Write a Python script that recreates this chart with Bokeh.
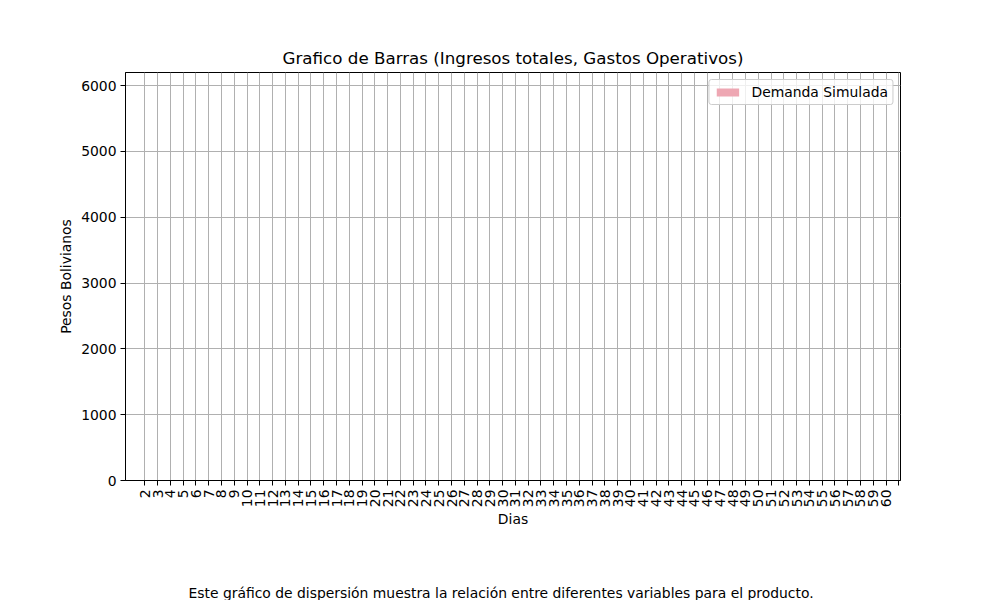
import math
from bokeh.plotting import figure
from bokeh.models import ColumnDataSource, FixedTicker, Range1d, Title, Legend, LegendItem
from bokeh.embed import file_html
from bokeh.resources import INLINE

# Data
dias = list(range(2, 61))            # tick labels on the x axis (days)
tick_positions = list(range(2, 62))  # last tick (61) has no label
demanda = [0] * len(dias)            # bars are not visible in the reference
y_ticks = [0, 1000, 2000, 3000, 4000, 5000, 6000]

FONT = "DejaVu Sans"
X0, X1 = 0.49, 61.13
Y0, Y1 = 0, 6198

p = figure(width=1000, height=600, output_backend="svg", toolbar_location=None,
           x_range=Range1d(X0, X1), y_range=Range1d(Y0, Y1),
           min_border_left=125, min_border_right=100, min_border_top=72,
           min_border_bottom=120)

p.title.text = "Grafico de Barras (Ingresos totales, Gastos Operativos)"
p.title.align = "center"
p.title.text_font = FONT
p.title.text_font_size = "16.7px"
p.title.text_font_style = "normal"
p.title.text_color = "black"
p.title.standoff = 9

src = ColumnDataSource(dict(x=dias, top=demanda))
r = p.vbar(x="x", top="top", width=0.8, source=src, fill_color="#eea7b3",
           line_color=None)

legend = Legend(items=[LegendItem(label="Demanda Simulada", renderers=[r])],
                location="top_right")
legend.label_text_font = FONT
legend.label_text_font_size = "13.9px"
legend.label_text_color = "black"
legend.border_line_color = "#cccccc"
legend.border_line_alpha = 1.0
legend.background_fill_alpha = 0.8
legend.glyph_width = 28
legend.glyph_height = 10
legend.padding = 4
legend.spacing = 0
legend.margin = 7
legend.label_standoff = 10
legend.border_radius = 3
p.add_layout(legend)

p.outline_line_color = "black"
p.outline_line_width = 1
p.outline_line_alpha = 1

p.xaxis.ticker = FixedTicker(ticks=tick_positions)
overrides = {t: "" for t in tick_positions}
for d in dias:
    overrides[d] = str(d)
p.xaxis.major_label_overrides = overrides
p.xaxis.major_label_orientation = math.pi / 2
p.yaxis.ticker = FixedTicker(ticks=y_ticks)

for ax in (p.xaxis[0], p.yaxis[0]):
    ax.major_label_text_font = FONT
    ax.major_label_text_font_size = "13.9px"
    ax.major_label_text_color = "black"
    ax.axis_label_text_font = FONT
    ax.axis_label_text_font_size = "13.9px"
    ax.axis_label_text_font_style = "normal"
    ax.axis_label_text_color = "black"
    ax.minor_tick_line_color = None
    ax.major_tick_out = 5
    ax.major_tick_in = 0
    ax.major_tick_line_color = "black"
    ax.axis_line_color = "black"
    ax.major_label_standoff = 4
    ax.axis_label_standoff = 4
p.xaxis.axis_label_standoff = 1

p.xaxis.axis_label = "Dias"
p.yaxis.axis_label = "Pesos Bolivianos"

p.xgrid.ticker = FixedTicker(ticks=tick_positions)
p.ygrid.ticker = FixedTicker(ticks=y_ticks)
p.grid.grid_line_color = "#b0b0b0"
p.grid.grid_line_width = 1

# spacer between the x axis and the footnote
spacer = Title(text=" ", text_font=FONT, text_font_size="13.9px", standoff=34)
p.add_layout(spacer, "below")
foot = Title(text="Este gráfico de dispersión muestra la relación entre diferentes variables para el producto.",
             align="left", offset=63, standoff=0, text_font=FONT,
             text_font_size="13.9px", text_font_style="normal", text_color="black")
p.add_layout(foot, "below")

open("out.html", "w").write(file_html(p, INLINE))
